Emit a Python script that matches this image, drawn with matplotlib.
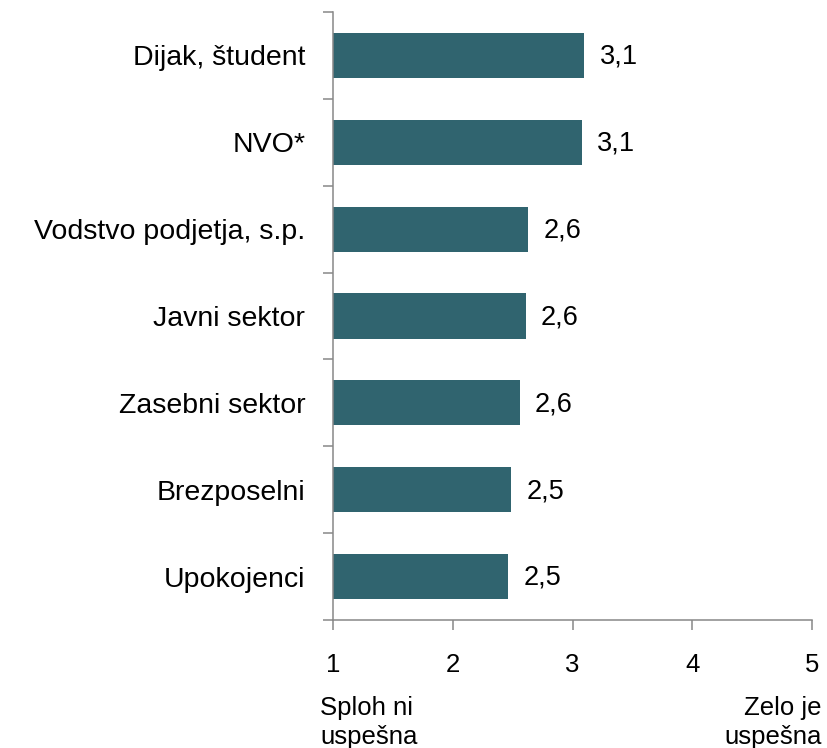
import numpy as np
import matplotlib
matplotlib.use('Agg')
import matplotlib.pyplot as plt
from matplotlib import rcParams

rcParams['font.family'] = ['Liberation Sans', 'DejaVu Sans']

# podatki
kategorije = ['Dijak, študent', 'NVO*', 'Vodstvo podjetja, s.p.', 'Javni sektor',
              'Zasebni sektor', 'Brezposelni', 'Upokojenci']
vrednosti = [3.10, 3.08, 2.63, 2.61, 2.56, 2.49, 2.46]
oznake = ['3,1', '3,1', '2,6', '2,6', '2,6', '2,5', '2,5']
x_ticks = [1, 2, 3, 4, 5]
spodaj_levo = 'Sploh ni\nuspešna'
spodaj_desno = 'Zelo je\nuspešna'

bar_color = '#30646f'
axis_color = '#888888'

fig = plt.figure(figsize=(8.28, 7.48), dpi=100)
ax = fig.add_axes([0.4022, 0.1711, 0.9807 - 0.4022, 0.984 - 0.1711])

y = np.arange(len(kategorije))
ax.barh(y, np.array(vrednosti) - 1, left=1, height=0.52, color=bar_color)

for yi, v, lab in zip(y, vrednosti, oznake):
    ax.annotate(lab, (v, yi), xytext=(11, -1), textcoords='offset points',
                ha='left', va='center', fontsize=19.5, color='black')

ax.set_xlim(1, 5)
ax.set_ylim(len(kategorije) - 0.5, -0.5)
ax.set_xticks(x_ticks)
ax.set_xticklabels([str(t) for t in x_ticks], fontsize=18.5)

ax.set_yticks(y)
ax.set_yticklabels(kategorije, fontsize=20.5)
ax.set_yticks(np.arange(len(kategorije) + 1) - 0.5, minor=True)
ax.tick_params(axis='y', which='major', length=0, pad=20)
ax.tick_params(axis='y', which='minor', length=7, width=1.1, color=axis_color)
ax.tick_params(axis='x', which='major', length=7, width=1.1, color=axis_color, pad=17)

for s in ['top', 'right']:
    ax.spines[s].set_visible(False)
for s in ['left', 'bottom']:
    ax.spines[s].set_color(axis_color)
    ax.spines[s].set_linewidth(1.1)

fig.text(320 / 828, 1 - 696 / 748, spodaj_levo, ha='left', va='top',
         fontsize=18.5, linespacing=1.25)
fig.text(822 / 828, 1 - 696 / 748, spodaj_desno, ha='right', va='top',
         fontsize=18.5, linespacing=1.25, multialignment='right')

fig.savefig('out.png', dpi=100)
